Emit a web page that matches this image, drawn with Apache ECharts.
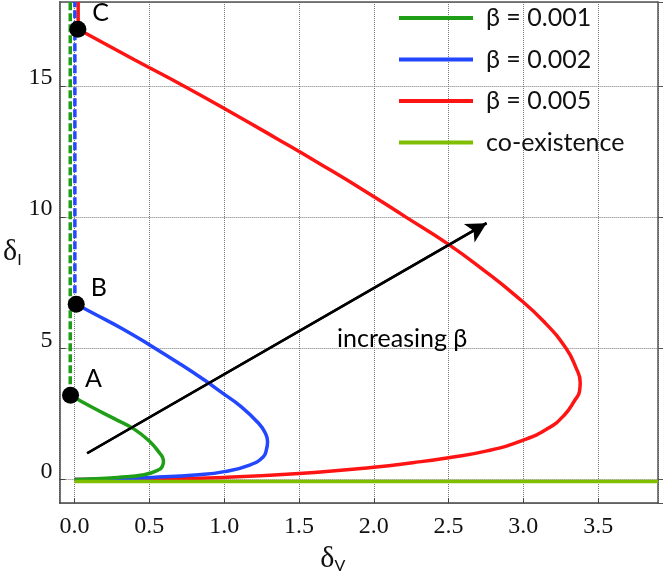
<!DOCTYPE html>
<html>
<head>
<meta charset="utf-8">
<script src="https://cdn.jsdelivr.net/npm/echarts@6/dist/echarts.min.js"></script>
<style>html,body{margin:0;padding:0;background:#fff}#main{width:664px;height:579px}</style>
</head>
<body>
<div id="main"></div>
<script>
// branches [deltaV, deltaI] (deltaI falls along each path)
var green = [[-0.027,3.21],[0.111,2.77],[0.265,2.32],[0.398,1.92],[0.504,1.44],[0.572,0.98],[0.59,0.82],[0.594,0.68],[0.588,0.52],[0.566,0.38],[0.464,0.18],[0.287,0.08],[0.066,0.01],[0,0]];
var blue = [[0.011,6.68],[0.15,6.26],[0.325,5.73],[0.51,5.10],[0.695,4.44],[0.87,3.78],[0.98,3.33],[1.115,2.77],[1.232,2.13],[1.272,1.8],[1.29,1.44],[1.283,1.15],[1.262,0.87],[1.175,0.56],[1.0,0.30],[0.83,0.18],[0.52,0.08],[0.15,0.01],[0,0]];
var red = [[0.024,17.16],[0.40,16.0],[0.73,15.0],[1.045,14.0],[1.35,13.0],[1.65,12.0],[1.94,11.0],[2.215,10.0],[2.49,9.0],[2.73,8.0],[2.95,7.0],[3.14,6.0],[3.285,5.0],[3.35,4.28],[3.38,3.7],[3.375,3.35],[3.344,3.02],[3.273,2.45],[3.163,1.94],[3.0,1.50],[2.765,1.10],[2.5,0.83],[2.26,0.64],[2.0,0.47],[1.5,0.23],[1.0,0.08],[0.5,0.015],[0,0]];
// vertical branches above the turning points
var greenVert = [[-0.029,3.21],[-0.029,18.2]];
var blueVert = [[0.002,6.68],[0.002,18.2]];
var redVert = [[0.024,17.16],[0.024,18.2]];
var coexist = [[0,-0.08],[3.9,-0.08]];
var points = [['A',-0.027,3.21],['B',0.011,6.68],['C',0.022,17.16]];
var arrowFrom = [0.084,1.0], arrowTo = [2.754,9.77];
var note = ['increasing β', 2.19, 5.34];
var names = ['β = 0.001','β = 0.002','β = 0.005','co-existence'];

var C_G = '#1f9f17', C_B = '#2346ff', C_R = '#ff1414', C_C = '#7fbf00';
var sans = 'Lato', serif = 'Liberation Serif';
var LW = 3.5;

var myChart = echarts.init(document.getElementById('main'));
myChart.setOption({
  animation: false,
  grid: {left: 55, right: 6, top: 2, bottom: 72},
  legend: {
    data: names, orient: 'vertical', left: 399, top: 3, padding: 0,
    icon: 'rect', itemWidth: 74, itemHeight: 4, itemGap: 11.5,
    textStyle: {fontFamily: sans, fontSize: 25, lineHeight: 30, color: '#111', padding: [0,0,0,8]}
  },
  xAxis: [{
    type: 'value', min: -0.1, max: 3.9, splitNumber: 8,
    name: '{d|δ}{s|V}', nameLocation: 'middle', nameGap: 34,
    nameTextStyle: {padding: [0,52,0,0], rich: {
      d: {fontFamily: serif, fontSize: 30, lineHeight: 30, verticalAlign: 'bottom', color: '#111'},
      s: {fontFamily: sans, fontSize: 16, lineHeight: 16, verticalAlign: 'bottom', color: '#111'}}},
    axisLine: {onZero: false, lineStyle: {color: '#444', width: 1.5}},
    axisTick: {inside: true, length: 5, lineStyle: {color: '#444'}},
    axisLabel: {showMinLabel: false, showMaxLabel: false, margin: 12, fontFamily: serif, fontSize: 24, color: '#111',
      formatter: function (v) { return v.toFixed(1); }},
    splitLine: {lineStyle: {type: 'dotted', color: '#777'}}
  }, {
    type: 'value', position: 'top', min: -0.1, max: 3.9, splitNumber: 8,
    axisLine: {onZero: false, lineStyle: {color: '#555', width: 1.5}},
    axisTick: {show: false}, axisLabel: {show: false}, splitLine: {show: false}
  }],
  yAxis: [{
    type: 'value', min: -0.9, max: 18.2, splitNumber: 4,
    name: '{d|δ}{s|I}', nameLocation: 'middle', nameRotate: 0, nameGap: 38,
    nameTextStyle: {rich: {
      d: {fontFamily: serif, fontSize: 30, lineHeight: 30, verticalAlign: 'bottom', color: '#111'},
      s: {fontFamily: sans, fontSize: 16, lineHeight: 16, verticalAlign: 'bottom', color: '#111'}}},
    axisLine: {onZero: false, lineStyle: {color: '#444', width: 1.5}},
    axisTick: {inside: true, length: 6, lineStyle: {color: '#444'}},
    axisLabel: {showMinLabel: false, showMaxLabel: false, margin: 7, fontFamily: serif, fontSize: 24, color: '#111',
      verticalAlign: 'bottom', lineHeight: 16},
    splitLine: {lineStyle: {type: 'dotted', color: '#777'}}
  }, {
    type: 'value', position: 'right', min: -0.9, max: 18.2, splitNumber: 4,
    axisLine: {onZero: false, lineStyle: {color: '#555', width: 1.5}},
    axisTick: {length: 5, lineStyle: {color: '#555'}}, axisLabel: {show: false}, splitLine: {show: false}
  }],
  series: [
    {name: 'arrow', type: 'line', data: [arrowFrom, arrowTo], symbol: 'none', silent: true,
      lineStyle: {color: '#000', width: 2.5},
      markLine: {silent: true, symbol: ['none','arrow'], symbolSize: [16,20], label: {show: false},
        lineStyle: {color: '#000', width: 2.5, type: 'solid'},
        data: [[{coord: arrowFrom}, {coord: arrowTo}]]}},
    {name: names[2], type: 'line', data: red, symbol: 'none', smooth: 0.5, color: C_R, lineStyle: {width: LW}},
    {name: 'redVert', type: 'line', data: redVert, symbol: 'none', color: C_R, lineStyle: {width: LW}},
    {name: names[1], type: 'line', data: blue, symbol: 'none', smooth: 0.5, color: C_B, lineStyle: {width: LW}},
    {name: 'blueVert', type: 'line', data: blueVert, symbol: 'none', color: C_B, lineStyle: {width: LW, type: [8,3]}},
    {name: names[0], type: 'line', data: green, symbol: 'none', smooth: 0.5, color: C_G, lineStyle: {width: LW}},
    {name: 'greenVert', type: 'line', data: greenVert, symbol: 'none', color: C_G, lineStyle: {width: LW, type: [8,3]}},
    {name: names[3], type: 'line', data: coexist, symbol: 'none', color: C_C, lineStyle: {width: LW}},
    {name: 'points', type: 'scatter', symbolSize: 17, itemStyle: {color: '#000', opacity: 1}, z: 5,
      data: points.map(function (p) { return {name: p[0], value: [p[1], p[2]]}; }),
      label: {show: true, position: 'right', distance: 6, offset: [0,-16], formatter: '{b}',
        fontFamily: sans, fontSize: 25, color: '#000'}},
    {name: 'note', type: 'scatter', symbolSize: 0, silent: true, itemStyle: {opacity: 1},
      data: [{name: note[0], value: [note[1], note[2]]}],
      label: {show: true, position: 'inside', formatter: '{b}', fontFamily: sans, fontSize: 25, color: '#000'}}
  ]
});
</script>
</body>
</html>
